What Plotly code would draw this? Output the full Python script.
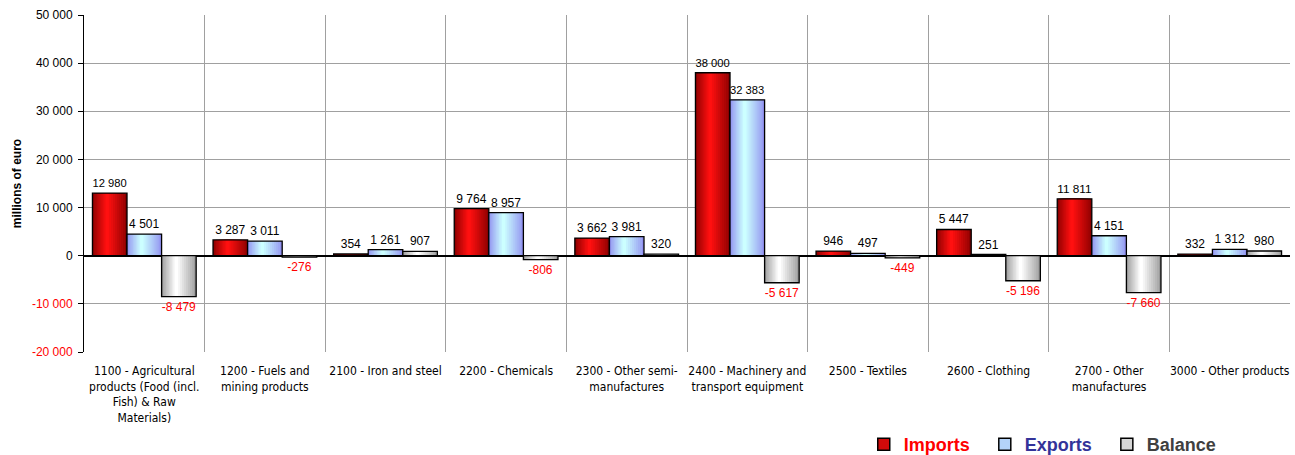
import plotly.graph_objects as go

categories = [
    "1100 - Agricultural<br>products (Food (incl.<br>Fish) & Raw<br>Materials)",
    "1200 - Fuels and<br>mining products",
    "2100 - Iron and steel",
    "2200 - Chemicals",
    "2300 - Other semi-<br>manufactures",
    "2400 - Machinery and<br>transport equipment",
    "2500 - Textiles",
    "2600 - Clothing",
    "2700 - Other<br>manufactures",
    "3000 - Other products",
]
imports = [12980, 3287, 354, 9764, 3662, 38000, 946, 5447, 11811, 332]
exports = [4501, 3011, 1261, 8957, 3981, 32383, 497, 251, 4151, 1312]
balance = [-8479, -276, 907, -806, 320, -5617, -449, -5196, -7660, 980]

y_ticks = [50000, 40000, 30000, 20000, 10000, 0, -10000, -20000]


def fmt(v):
    # space as thousands separator
    return f"{v:,}".replace(",", " ")


def tick_label(v):
    if v < 0:
        return f"<span style='color:#ff0000'>{fmt(v)}</span>"
    return fmt(v)


def mix(c1, c2, t):
    a = [int(c1[i:i + 2], 16) for i in (1, 3, 5)]
    b = [int(c2[i:i + 2], 16) for i in (1, 3, 5)]
    return "rgb(%d,%d,%d)" % tuple(round(a[k] + (b[k] - a[k]) * t) for k in range(3))


# name, values, edge colour, centre colour, legend text colour
series = [
    ("Imports", imports, "#8a0000", "#ff1010", "#ff0000"),
    ("Exports", exports, "#9090f0", "#ccffff", "#333399"),
    ("Balance", balance, "#999999", "#ffffff", "#404040"),
]

group_w = 0.86
slot = group_w / len(series)
layers = 10

fig = go.Figure()
for s, (name, vals, edge, centre, legend_color) in enumerate(series):
    left0 = -group_w / 2 + s * slot
    # fake horizontal gradient: stacked, ever narrower bars
    for i in range(layers):
        t = i / layers
        left = left0 + t * 0.42 * slot
        right = left0 + slot - t * 0.58 * slot
        fig.add_trace(go.Bar(
            x=categories, y=vals,
            offset=left, width=right - left,
            marker=dict(color=mix(edge, centre, (i + 1) / layers) if i else edge,
                        line=dict(width=0)),
            showlegend=False, legendgroup=name, hoverinfo="skip",
        ))
    # outline + labels on top
    fig.add_trace(go.Bar(
        x=categories, y=vals,
        offset=left0, width=slot,
        marker=dict(color="rgba(0,0,0,0)", line=dict(color="#000000", width=1.3)),
        text=[fmt(v) for v in vals],
        textposition="outside",
        textfont=dict(family="Liberation Sans, Arial", size=12,
                      color=["#ff0000" if v < 0 else "#000000" for v in vals]),
        cliponaxis=False, showlegend=False, legendgroup=name, name=name,
    ))
    # legend entry only
    fig.add_trace(go.Bar(
        x=categories, y=[None] * len(vals),
        marker=dict(color=mix(edge, centre, 0.6), line=dict(color="#000000", width=1.5)),
        name=f"<span style='color:{legend_color}'><b>{name}</b></span>&nbsp;&nbsp;",
        legendgroup=name, showlegend=True,
    ))

# figure is a little taller than the window; the bottom few pixels are cut off
fig.update_layout(
    width=1295, height=463,
    margin=dict(l=84, r=5, t=15, b=111),
    paper_bgcolor="white", plot_bgcolor="white",
    barmode="overlay",
    font=dict(family="Liberation Sans, Arial", size=12, color="#000000"),
    legend=dict(orientation="h", xref="container", yref="container",
                x=0.667, xanchor="left", y=0, yanchor="bottom",
                font=dict(size=18, family="Liberation Sans, Arial"),
                itemwidth=30, traceorder="normal"),
    showlegend=True,
)
fig.update_xaxes(
    tickson="boundaries", showgrid=True, gridcolor="#a0a0a0", gridwidth=1,
    ticks="", tickfont=dict(family="DejaVu Sans Condensed, DejaVu Sans", size=12),
    showline=False, tickangle=0, automargin=False, ticklabelstandoff=10,
)
fig.update_yaxes(
    range=[-20000, 50000], tickvals=y_ticks,
    ticktext=[tick_label(v) for v in y_ticks],
    showgrid=True, gridcolor="#a0a0a0", gridwidth=1,
    zeroline=True, zerolinecolor="#000000", zerolinewidth=1.5,
    showline=True, linecolor="#000000", linewidth=1,
    ticks="outside", ticklen=5, tickcolor="#000000",
    tickfont=dict(size=12), automargin=False, ticklabelstandoff=3,
    title=dict(text="<b>millions of euro</b>", font=dict(size=12), standoff=7),
)

fig.write_html("out.html", config={"displayModeBar": False},
               post_script="document.body.style.margin='0';document.body.style.overflow='hidden';")
